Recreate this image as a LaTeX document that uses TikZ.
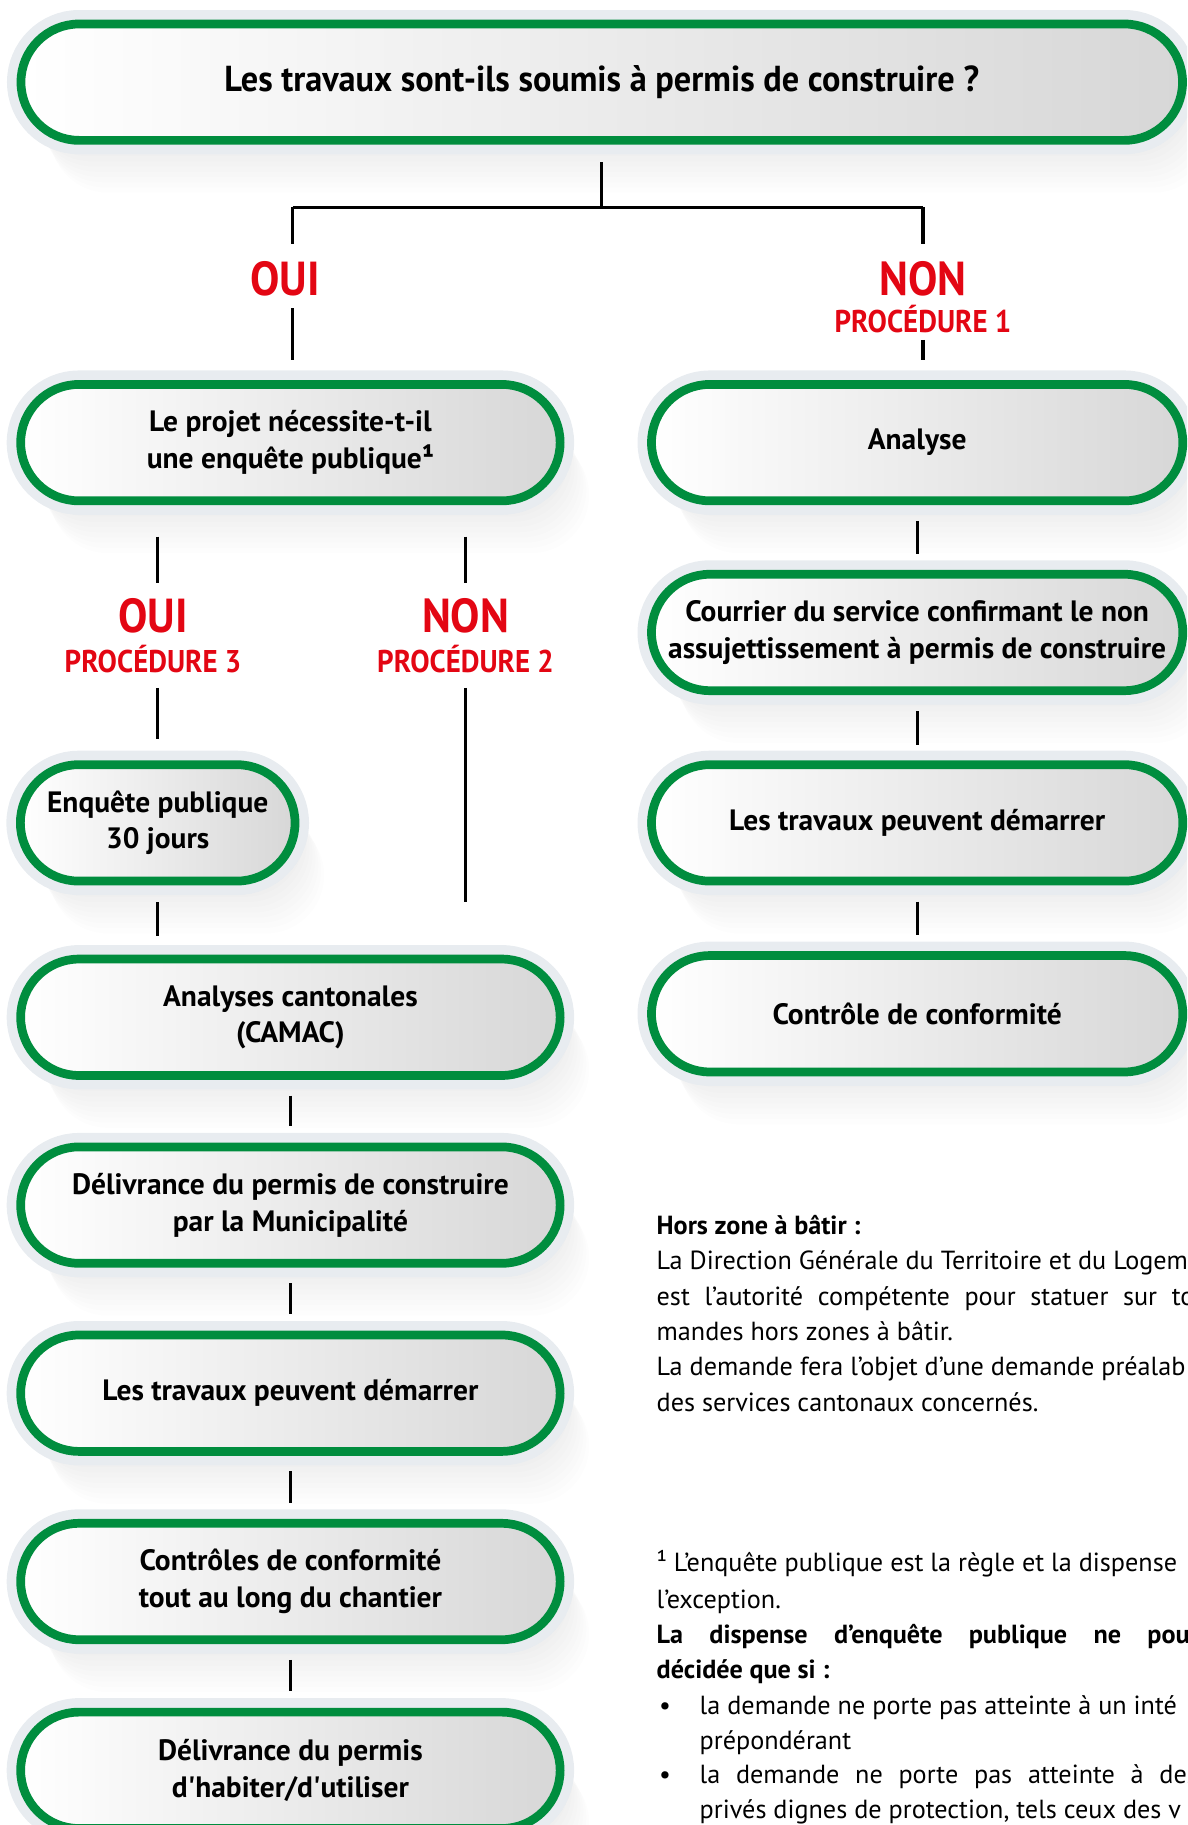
\documentclass[tikz,border=0pt]{standalone}
\usepackage{fontspec}
\setmainfont{PT Sans}
\newfontfamily\boxfont{PT Sans}
\newfontfamily\titlefont[FakeStretch=0.95]{PT Sans}
\newfontfamily\lblfont[FakeStretch=0.92]{PT Sans}
\newfontfamily\bodyfont{PT Sans}
\usetikzlibrary{shapes.misc}
\definecolor{pgreen}{RGB}{0,141,62}
\definecolor{pred}{RGB}{227,6,19}
\definecolor{halo}{RGB}{232,236,240}
\definecolor{boxgray}{RGB}{215,215,215}
\tikzset{
  shd/.style={preaction={draw=none,fill=black,fill opacity=0.008,transform canvas={shift={(#1)}}}},
  longshadow/.style={shd={2.5pt,-4.5pt},shd={5pt,-9pt},shd={7.5pt,-13.5pt},shd={10pt,-18pt},
    shd={12.5pt,-22.5pt},shd={15pt,-27pt},shd={17.5pt,-31.5pt},shd={20pt,-36pt},
    shd={22.5pt,-40.5pt},shd={25pt,-45pt}},
  pill/.style={rounded rectangle, minimum height=100pt, inner sep=0pt, align=center,
    longshadow, preaction={draw=halo,line width=24pt},
    draw=pgreen, line width=7.5pt, left color=white, right color=boxgray,
    text=black, font=\boxfont\bfseries\fontsize{25.3}{31.5}\selectfont},
  lpill/.style={pill, minimum width=463.5pt},
  rpill/.style={pill, minimum width=456.5pt},
  conn/.style={draw=black, line width=2.6pt},
  bigred/.style={text=pred, inner sep=0pt, anchor=base, font=\lblfont\bfseries\fontsize{41}{41}\selectfont},
  procred/.style={text=pred, inner sep=0pt, anchor=base, font=\lblfont\bfseries\fontsize{27}{27}\selectfont},
  body/.style={inner sep=0pt, anchor=base west, font=\bodyfont\fontsize{22.5}{30}\selectfont},
}
\begin{document}
\begin{tikzpicture}[x=1pt,y=-1pt]
\useasboundingbox (0,0) rectangle (1020,1568);
\clip (0,0) rectangle (1020,1568);
% boxes
\node[pill, minimum width=998pt, font=\titlefont\bfseries\fontsize{31}{36}\selectfont] (top) at (517,70.6) {Les travaux sont-ils soumis à permis de construire ?};
\node[lpill] (proj) at (249.5,380.3) {Le projet nécessite-t-il\\une enquête publique¹};
\node[rpill] (anal) at (788,380.3) {Analyse};
\node[rpill] (cour) at (788,543.4) {Courrier du service confirmant le non\\assujettissement à permis de construire};
\node[rpill] (trvR) at (788,707) {Les travaux peuvent démarrer};
\node[rpill] (ctrlR) at (788,871) {Contrôle de conformité};
\node[pill, minimum width=236pt] (enq) at (135.5,707) {Enquête publique\\30 jours};
\node[lpill] (cant) at (249.5,874) {Analyses cantonales\\(CAMAC)};
\node[lpill] (deliv) at (249.5,1035.4) {Délivrance du permis de construire\\par la Municipalité};
\node[lpill] (trvL) at (249.5,1197) {Les travaux peuvent démarrer};
\node[lpill] (ctrlL) at (249.5,1358.8) {Contrôles de conformité\\tout au long du chantier};
\node[lpill] (habit) at (249.5,1521) {Délivrance du permis\\d\textquotesingle habiter/d\textquotesingle utiliser};
% red labels
\node[bigred] (ouiA) at (245,253.5) {OUI};
\node[bigred] (nonA) at (793,253.5) {NON};
\node[procred] (procA) at (793,286) {PROCÉDURE 1};
\node[bigred] (ouiB) at (131.5,543) {OUI};
\node[procred] (procB) at (131.5,577.5) {PROCÉDURE 3};
\node[bigred] (nonB) at (400,543) {NON};
\node[procred] (procC) at (400,577.5) {PROCÉDURE 2};
% connectors
\coordinate (j0) at (517,178);
\coordinate (cl) at (251.5,178);
\coordinate (cr) at (793,178);
\coordinate (lb) at (135.5,501);
\coordinate (rb) at (400,501);
\coordinate (nend) at (400,775);
\draw[conn, shorten <=15] (top.south) -- (j0);
\draw[conn] (cl) -- (cr);
\draw[conn, shorten >=14] (cl) -- (cl |- ouiA.north);
\draw[conn, shorten >=14] (cr) -- (cr |- nonA.north);
\draw[conn, shorten <=11.5, shorten >=17] (cl |- ouiA.base) -- (cl |- proj.north);
\draw[conn, shorten <=6, shorten >=17] (procA.base) -- (anal.north -| procA.base);
\draw[conn, shorten <=27] (proj.south -| lb) -- (lb);
\draw[conn, shorten <=27] (proj.south -| rb) -- (rb);
\draw[conn, shorten <=13.5, shorten >=18] (procB.base -| lb) -- (enq.north -| lb);
\draw[conn, shorten <=13.5] (procC.base) -- (nend);
\draw[conn, shorten <=14.5, shorten >=16] (enq.south) -- (cant.north -| enq.south);
\draw[conn, shorten <=13.5, shorten >=14] (cant.south) -- (deliv.north);
\draw[conn, shorten <=13.5, shorten >=14] (deliv.south) -- (trvL.north);
\draw[conn, shorten <=13.5, shorten >=14] (trvL.south) -- (ctrlL.north);
\draw[conn, shorten <=13.5, shorten >=14] (ctrlL.south) -- (habit.north);
\draw[conn, shorten <=13.5, shorten >=13.5] (anal.south) -- (cour.north);
\draw[conn, shorten <=14, shorten >=13.5] (cour.south) -- (trvR.north);
\draw[conn, shorten <=14, shorten >=13.5] (trvR.south) -- (ctrlR.north);
% text block
\node[body] (t0) at (564,1060.7) {\bfseries Hors zone à bâtir :};
\node[body] (t1) at (564,1091) {La Direction Générale du Territoire et du Logeme};
\node[body] (t2) at (564,1121.4) {\makebox[462pt][s]{est l’autorité compétente pour statuer sur to}};
\node[body] (t3) at (564,1151.8) {mandes hors zones à bâtir.};
\node[body] (t4) at (564,1182) {La demande fera l’objet d’une demande préalab};
\node[body] (t5) at (564,1212.5) {des services cantonaux concernés.};
\node[body] (f1) at (564,1349.8) {¹ L’enquête publique est la règle et la dispense};
\node[body] (f2) at (564,1381.6) {l’exception.};
\node[body] (f3) at (564,1411.7) {\bfseries\makebox[458pt][s]{La dispense d’enquête publique ne pou}};
\node[body] (f4) at (564,1441.7) {\bfseries décidée que si :};
\node[body] (b1) at (566,1472.9) {•};
\node[body] (f5) at (601,1472.9) {la demande ne porte pas atteinte à un inté};
\node[body] (f6) at (601,1502.9) {prépondérant};
\node[body] (b2) at (566,1532.6) {•};
\node[body] (f7) at (601,1532.6) {\makebox[428pt][s]{la demande ne porte pas atteinte à des}};
\node[body] (f8) at (601,1562.6) {privés dignes de protection, tels ceux des v};
\end{tikzpicture}
\end{document}
